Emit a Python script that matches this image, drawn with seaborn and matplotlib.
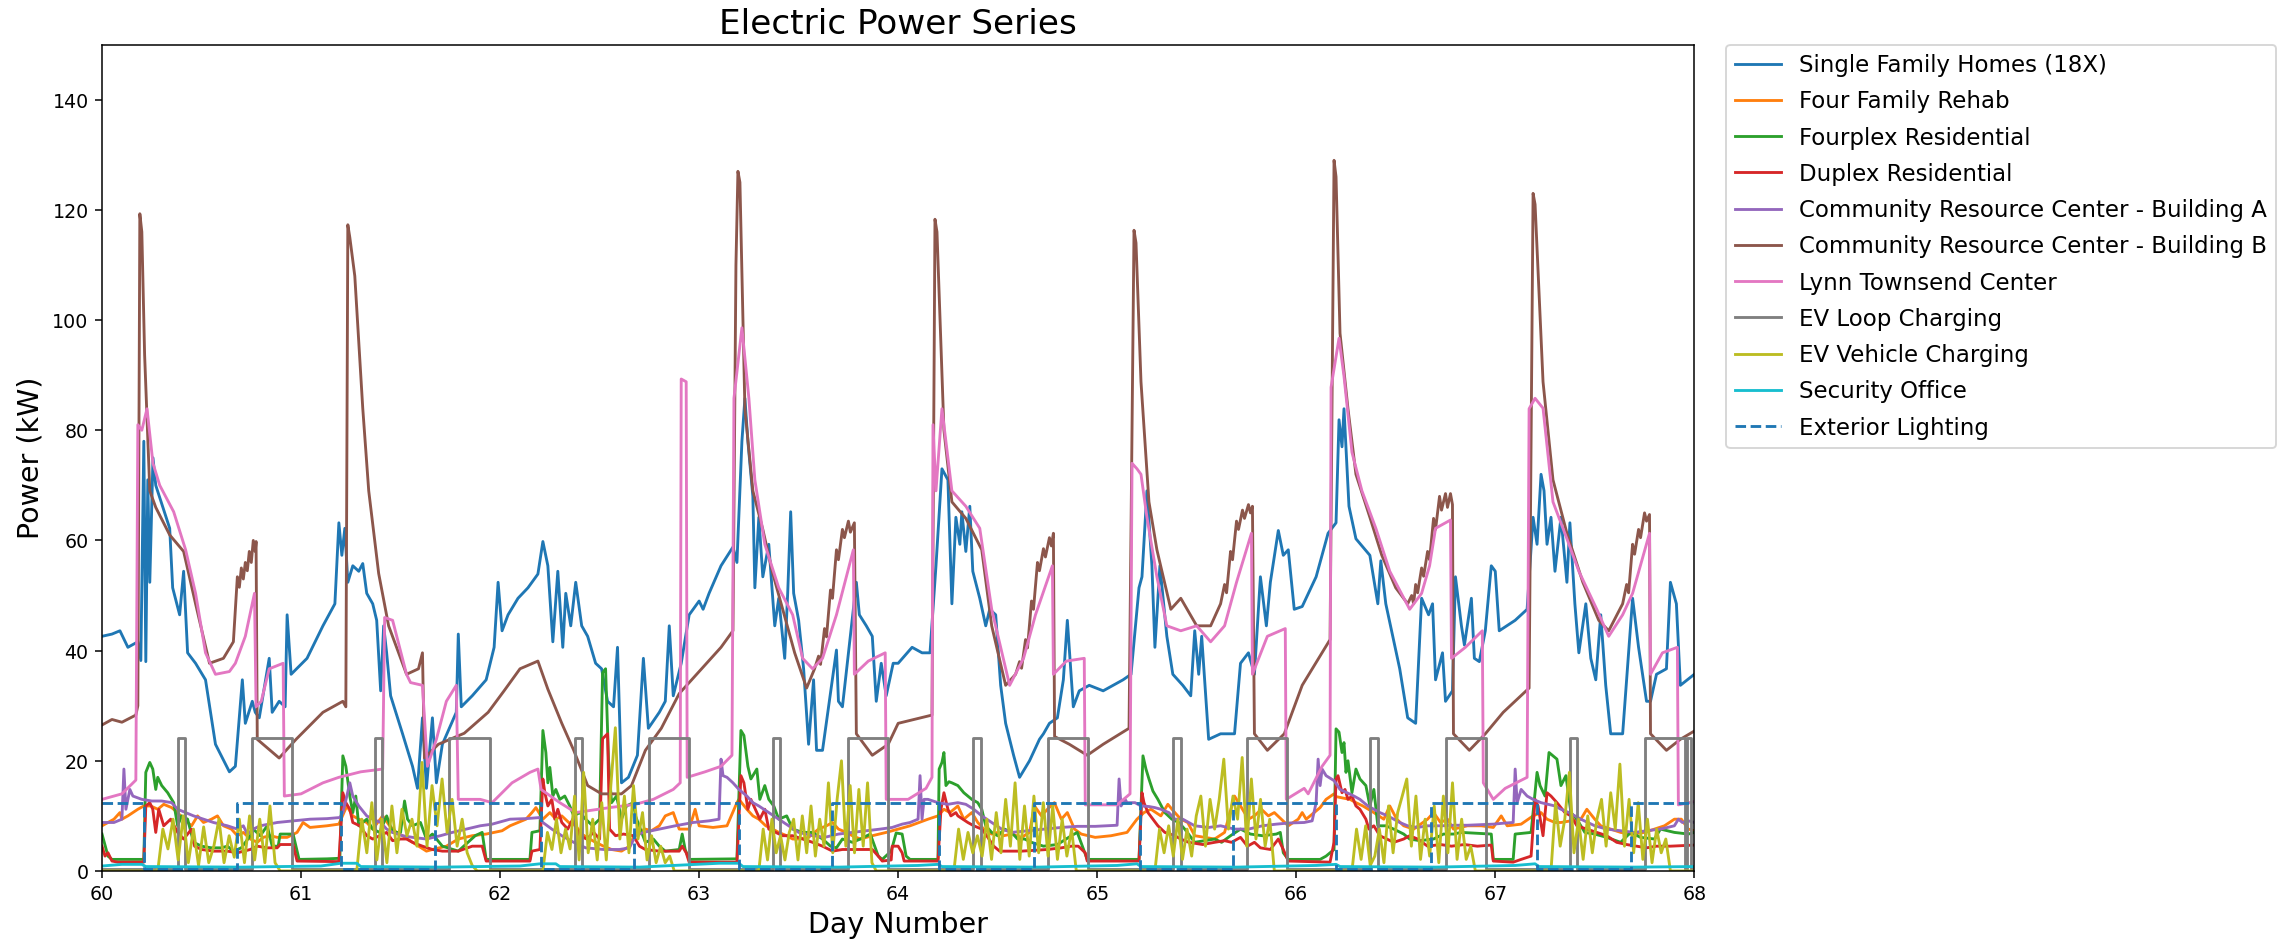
import numpy as np
import pandas as pd
import matplotlib
matplotlib.use("Agg")
import matplotlib.pyplot as plt
import seaborn as sns

# ---------------- data ----------------
sfh_t = [60.00,60.05,60.09,60.13,60.18,60.195,60.21,60.22,60.23,60.24,60.256,60.27,60.34,60.355,60.39,60.41,60.43,60.47,60.52,60.57,
         60.64,60.67,60.705,60.72,60.755,60.77,60.79,60.84,60.855,60.89,60.92,60.93,60.95,61.03,61.11,61.17,61.19,61.205,61.22,61.235,
         61.26,61.29,61.31,61.33,61.36,61.38,61.40,61.415,61.43,61.45,61.51,61.56,61.585,61.61,61.63,61.66,61.68,61.71,61.78,61.79,
         61.805,61.86,61.93,61.97,61.99,62.01,62.04,62.09,62.14,62.19,62.215,62.24,62.265,62.29,62.315,62.33,62.355,62.38,62.41,62.44,
         62.48,62.51,62.54,62.57,62.59,62.61,62.645,62.69,62.72,62.745,62.80,62.83,62.85,62.87,62.91,62.95,63.00,63.02,63.05,63.11,
         63.17,63.19,63.215,63.23,63.245,63.27,63.28,63.30,63.32,63.35,63.38,63.40,63.43,63.445,63.46,63.475,63.50,63.525,63.55,63.575,
         63.59,63.62,63.69,63.70,63.72,63.79,63.805,63.84,63.87,63.89,63.915,63.94,63.975,64.00,64.07,64.12,64.16,64.19,64.22,64.25,
         64.27,64.29,64.31,64.32,64.34,64.36,64.375,64.41,64.44,64.46,64.49,64.515,64.54,64.58,64.61,64.66,64.71,64.73,64.76,64.80,
         64.83,64.85,64.88,64.91,64.96,65.03,65.13,65.17,65.21,65.225,65.25,65.275,65.29,65.315,65.35,65.38,65.43,65.47,65.49,65.51,
         65.525,65.56,65.62,65.69,65.72,65.76,65.79,65.82,65.85,65.87,65.91,65.935,65.96,65.99,66.03,66.10,66.16,66.20,66.215,66.23,
         66.24,66.265,66.30,66.37,66.41,66.425,66.45,66.52,66.56,66.60,66.63,66.665,66.685,66.70,66.735,66.75,66.785,66.80,66.83,66.845,
         66.88,66.895,66.92,66.95,66.98,67.00,67.02,67.10,67.16,67.19,67.21,67.23,67.245,67.26,67.28,67.30,67.33,67.36,67.375,67.40,
         67.42,67.455,67.48,67.505,67.53,67.555,67.58,67.64,67.69,67.72,67.76,67.78,67.81,67.86,67.88,67.91,67.93,68.00]
sfh_kw = [42.6,43.0,43.6,40.6,41.6,38.2,78,38,71,52.4,75,70,62.2,51.4,46.5,54.4,39.6,37.7,34.7,23,
          18,19,34.7,26.8,30.8,28.8,27.8,38.6,28.8,30.8,29.8,46.5,35.7,38.6,44.5,48.5,63.2,57.3,62.2,52.4,
          55.4,54.4,55.8,50.4,48.5,45.5,32.7,44.5,39.6,31.8,24.9,19,15,27.8,15,27.8,16,23,28.8,43,
          29.8,31.8,34.7,40.6,52.4,43.6,46.5,49.5,51.4,53.9,59.8,55.4,41.6,54.4,40.6,50.4,44.5,52.4,44.5,42.6,
          37.7,36.7,30.8,29.8,40.6,16,17,21,38.6,25.9,28.8,30.8,44.5,31.8,37.7,46.5,49,47.5,50.4,55.4,
          58.8,56,78,85.8,78,68,51.4,64.2,53.4,59.3,44.5,49.5,38.6,50.4,65.2,50.4,45.5,36.7,23,34.7,
          21.9,21.9,40.1,30.8,29.8,52.4,46.5,44.5,42.6,30.8,37.7,31.8,37.7,37.7,40.6,39.6,39.6,55.4,73,71,
          48.5,64.2,59.3,65.2,58,66.2,54.4,49.5,44.5,47.5,46.5,33.7,26.8,21,17,20,23.9,24.9,26.8,27.8,
          34.7,45.5,29.8,32.7,33.7,32.7,34.7,35.7,51.4,53.4,69,55.4,40.6,55.4,42.6,35.7,33.7,31.8,43.6,35.7,
          42.6,23.9,24.9,24.9,37.7,39.6,35.7,53.4,44.5,52.4,61.8,57.3,58.3,47.5,48,53.4,61.3,63.2,81.9,77,
          83.9,66.2,60.3,57.3,48.5,56.3,48.5,36.7,27.8,26.8,49.5,46.5,48.5,34.7,39.6,30.8,32.7,53.4,44.5,41,
          49.5,38.6,38,43.6,55.4,54.4,43.6,45.5,47.5,64.2,59.3,72,69,59.3,64.2,54.4,64.2,52.4,63.2,48.5,
          39.6,48.5,38.6,34.7,46.5,33.7,24.9,24.9,49.5,40.6,30.8,30.8,35.7,36.7,52.4,48.5,33.7,35.7]

rehab_t = [60.00,60.03,60.06,60.09,60.10,60.13,60.18,60.21,60.245,60.28,60.31,60.35,60.38,60.41,60.45,60.48,60.51,60.55,60.58,60.61,
           60.65,60.68,60.71,60.745,60.78,60.81,60.845,60.88,60.93,60.98,61.01,61.045,61.13,61.19,61.23,61.26,61.29,61.33,61.36,61.41,
           61.445,61.48,61.51,61.56,61.63,61.66,61.73,61.79,61.86,61.93,62.01,62.05,62.13,62.16,62.18,62.215,62.25,62.28,62.31,62.345,
           62.38,62.41,62.45,62.48,62.52,62.56,62.61,62.65,62.68,62.73,62.76,62.80,62.83,62.87,62.90,62.95,62.98,63.00,63.07,63.14,
           63.19,63.20,63.24,63.27,63.30,63.335,63.37,63.40,63.44,63.47,63.50,63.55,63.60,63.64,63.67,63.70,63.74,63.77,63.81,63.87,
           63.94,63.97,64.03,64.06,64.15,64.20,64.23,64.26,64.30,64.33,64.37,64.40,64.43,64.47,64.50,64.53,64.57,64.62,64.66,64.685,
           64.72,64.75,64.785,64.82,64.85,64.886,64.92,64.99,65.07,65.15,65.20,65.235,65.27,65.32,65.355,65.39,65.42,65.455,65.49,65.54,
           65.59,65.64,65.69,65.72,65.76,65.79,65.825,65.86,65.89,65.925,65.96,66.01,66.03,66.05,66.09,66.12,66.15,66.19,66.20,66.24,
           66.27,66.30,66.335,66.39,66.44,66.47,66.505,66.54,66.59,66.66,66.69,66.725,66.76,66.79,66.86,66.93,66.99,67.03,67.06,67.13,
           67.19,67.23,67.26,67.30,67.33,67.38,67.43,67.46,67.50,67.53,67.58,67.63,67.68,67.75,67.80,67.85,67.90,67.935,67.97,68.00]
rehab_kw = [8.2,8.8,9.4,10.6,9.4,10,11.2,11.8,11.8,11.2,12.1,11.5,10.6,9.4,8.2,10,8.8,9.4,10,8.2,
            7.6,6.4,7,5.8,5.2,6.1,6.4,6.1,6.1,7,8.8,7.9,8.2,8.5,11.8,10,9.4,8.8,7.6,10,
            8.2,7,6.4,5.2,3.6,3.9,4.5,5.8,6.4,6.7,7.3,8.2,9.4,10.6,11.5,9.4,10.6,9.4,10,8.8,
            8.2,6.7,5.8,5.2,4.5,3.9,3.6,4.5,7,7.6,7.3,8.2,10,10.6,7.6,7.6,11.2,8.2,7.9,8.2,
            12.4,13,11.2,10,9.4,8.2,7.6,7,6.4,5.8,5.8,6.1,7.6,8.2,8.8,7.6,7,6.4,5.8,6.4,
            7,7.3,7.9,8.2,9.4,10,11.2,10.6,11.8,9.4,10.6,8.8,7.6,6.7,7,6.4,6.7,6.1,7,11.8,
            10,11.2,12.4,9.4,10.6,7.6,6.7,6.1,6.4,7,9.4,10.6,11.2,10,12.1,10.6,9.4,8.8,6.4,6.1,
            5.8,7,13.6,11.8,9.4,10,11.2,10,10.6,9.4,8.2,9.4,10.6,9.4,10.6,11.5,13,14,13.5,13.2,
            13,12.4,11.8,10.6,9.4,11.8,9.4,8.2,7.6,9.4,10.6,8.8,9.4,7.6,8.2,8.2,7.9,10,8.2,8.5,
            10,10.6,9.4,8.8,8.8,9.1,9.4,11.2,9.4,8.2,7.6,7,6.7,7,7.6,8.2,9.4,9.4,7.6,7.3]

fourplex_t = [60.00,60.03,60.05,60.21,60.22,60.24,60.255,60.27,60.28,60.30,60.33,60.36,60.38,60.40,60.43,60.46,60.50,60.55,60.60,60.63,
              60.66,60.70,60.745,60.76,60.795,60.83,60.855,60.885,60.895,60.96,60.99,61.13,61.195,61.21,61.225,61.245,61.26,61.275,61.29,61.33,
              61.36,61.395,61.43,61.46,61.50,61.52,61.535,61.56,61.60,61.63,61.66,61.71,61.79,61.875,61.91,61.93,62.15,62.16,62.20,62.215,
              62.23,62.24,62.25,62.265,62.28,62.30,62.325,62.35,62.37,62.40,62.43,62.465,62.50,62.515,62.53,62.545,62.56,62.585,62.61,62.635,
              62.67,62.68,62.73,62.77,62.80,62.83,62.90,62.915,62.93,62.95,63.19,63.21,63.225,63.245,63.26,63.29,63.305,63.33,63.35,63.375,
              63.40,63.44,63.47,63.52,63.57,63.62,63.66,63.69,63.72,63.77,63.81,63.86,63.90,63.92,63.965,63.99,64.02,64.04,64.06,64.20,
              64.206,64.22,64.23,64.24,64.255,64.27,64.30,64.33,64.37,64.40,64.42,64.44,64.47,64.50,64.535,64.57,64.60,64.635,64.67,64.73,
              64.80,64.87,64.90,64.935,64.95,65.21,65.23,65.245,65.26,65.28,65.305,65.34,65.375,65.41,65.44,65.49,65.54,65.59,65.625,65.67,
              65.72,65.77,65.83,65.90,65.92,65.935,65.96,66.12,66.15,66.19,66.20,66.215,66.23,66.24,66.25,66.26,66.28,66.30,66.32,66.35,
              66.37,66.39,66.41,66.45,66.49,66.54,66.57,66.62,66.69,66.74,66.79,66.83,66.98,66.99,67.09,67.10,67.18,67.21,67.225,67.25,
              67.27,67.31,67.33,67.355,67.38,67.41,67.45,67.50,67.56,67.63,67.68,67.73,67.80,67.83,67.865,67.90,67.97,68.00]
fourplex_kw = [6.7,2.7,2.1,2.1,17.9,19.7,18.5,14.8,17,15.5,14.2,12.4,8.2,10,9.4,5.2,4.5,4.2,4.2,4.5,
               3.6,4.2,6.4,7.6,6.4,8.2,4.5,4.5,6.7,6.7,2.1,2.2,2.3,20.9,19,13.6,10.6,13.6,8.2,9.4,
               7.6,7,10,7,7,12.7,9.4,8.2,8.8,5.8,6.7,4.5,3.6,6.4,7,2.1,2.1,7,7.3,25.5,
               21.5,16,18.8,13.6,14.8,13,13.6,11.8,10,10.6,9.4,8.2,9.4,36,36.7,20,12.4,13.6,9.4,11.8,
               12.4,10,5.2,5.8,4.5,3.6,3.9,6.7,3.9,2.1,2.2,25.5,24.6,19,16.7,18.5,13,15.5,13,11.8,
               9.4,10,7.6,7,7,5.8,4.5,4.2,5.8,5.2,5.8,6.7,2.7,2.1,3.6,6.9,6.7,2.7,2.1,2.1,
               18.5,19.7,21.5,15.5,16.2,16,15.5,14.2,13,12.4,11.2,8.2,7,6.4,7.6,7,5.8,5.8,5.2,4.5,
               4.8,6.4,7,3.6,2.1,2.1,20.9,18.5,16.7,14.5,13,10.6,9.4,8.8,7.6,5.2,5.5,5.8,5.2,6.4,
               7.6,6.7,6.4,6.7,7,3.3,2.1,2.1,2.7,3.9,25.8,25.2,21.5,23.3,17.9,20,14.2,18.5,16.7,15.5,
               11.8,14.8,8.2,8.2,7.6,6.7,5.8,5.5,5.8,6.7,6.7,7,6.7,2.1,2.1,6.7,7,17.9,15.5,13.6,
               21.5,20.3,15.5,17.3,10.6,9.4,7,6.7,6.1,5.2,7,6.1,5.8,7.6,7.3,7,6.7,7]

duplex_t = [60.00,60.015,60.03,60.05,60.08,60.21,60.22,60.24,60.255,60.27,60.285,60.31,60.345,60.38,60.41,60.45,60.465,60.50,60.56,60.63,
            60.68,60.745,60.78,60.83,60.88,60.895,60.96,60.98,61.19,61.21,61.225,61.245,61.26,61.295,61.33,61.36,61.395,61.43,61.46,61.50,
            61.53,61.56,61.61,61.66,61.71,61.79,61.86,61.91,61.93,62.15,62.16,62.20,62.215,62.225,62.24,62.26,62.275,62.29,62.31,62.34,
            62.365,62.40,62.435,62.47,62.50,62.515,62.54,62.55,62.58,62.62,62.67,62.70,62.73,62.80,62.90,62.915,62.935,62.95,63.19,63.21,
            63.225,63.245,63.26,63.29,63.305,63.33,63.35,63.385,63.42,63.47,63.52,63.57,63.62,63.67,63.72,63.80,63.87,63.90,63.92,63.965,
            63.97,64.00,64.02,64.03,64.20,64.215,64.23,64.25,64.265,64.29,64.30,64.35,64.38,64.42,64.445,64.48,64.51,64.62,64.75,64.82,
            64.87,64.905,64.94,64.95,65.21,65.225,65.235,65.255,65.28,65.305,65.34,65.39,65.42,65.46,65.53,65.59,65.64,65.675,65.72,65.755,
            65.79,65.82,65.87,65.91,65.935,65.96,66.17,66.19,66.20,66.21,66.23,66.245,66.26,66.28,66.30,66.32,66.35,66.365,66.39,66.42,
            66.455,66.49,66.54,66.57,66.61,66.66,66.725,66.78,66.845,66.91,66.98,66.99,67.09,67.13,67.18,67.20,67.215,67.24,67.26,67.28,
            67.31,67.35,67.38,67.41,67.46,67.51,67.56,67.61,67.66,67.71,67.76,67.81,67.88,68.00]
duplex_kw = [4.5,2.7,3.3,1.8,1.6,1.6,11.8,12.4,11.2,7,11.2,8.2,9.4,7,5.8,7.6,4.5,3.9,3.6,3.6,
             3.3,3.9,4.5,4.2,4.2,4.8,4.8,1.8,1.7,14.2,12.4,11.2,8.8,8.2,6.4,5.8,6.4,7,5.5,5.8,
             5.8,5.2,4.5,3.9,3.6,3.6,4.5,4.5,1.8,1.8,3.6,3.9,16.7,14.2,11.8,13,9.4,11.2,8.8,7.6,
             9.4,6.4,5.8,7,5.8,24,24.9,7.6,6.4,6.7,6.4,4.5,3.9,3.6,3.6,4.5,3.3,1.6,1.6,17.3,
             16,11.2,13,10.6,9.4,11.2,7.6,7,6.4,6.4,5.8,5.2,4.5,3.6,3.9,3.9,3.9,2.7,1.8,2,
             4.5,4.5,3.3,1.8,1.8,11.2,14.2,11.2,10,10.6,10,8.8,8.2,7.6,6.4,4.5,3.6,3.6,3.9,4.2,
             4.5,4.5,3.3,1.8,1.8,14.2,12.4,10.6,9.4,8.2,7,6.4,5.8,5.2,4.8,5.2,5.5,5.2,6.1,4.5,
             5.2,4.2,3.9,5.8,3.9,1.8,1.6,5.2,16.7,17.3,14.2,14.8,13,13.6,11.8,11.2,9.4,7.6,8.2,6.4,
             5.8,5.2,5.8,6.4,5.8,4.5,4.8,4.5,4.8,4.5,4.7,1.8,1.6,2.1,2.7,13,11.8,6.4,14.2,13.6,
             12.4,10.6,10,8.2,7.6,7,6.4,5.2,4.8,4.5,4.2,4.5,4.5,4.7]

crc_a_t = [60.00,60.06,60.10,60.11,60.12,60.14,60.155,60.20,60.25,60.30,60.35,60.38,60.42,60.46,60.51,60.56,60.63,60.68,60.71,60.73,
           60.76,60.795,60.88,60.96,61.045,61.13,61.195,61.21,61.23,61.245,61.26,61.29,61.33,61.36,61.40,61.43,61.46,61.51,61.56,61.63,
           61.70,61.76,61.83,61.90,61.96,62.05,62.13,62.20,62.215,62.26,62.31,62.37,62.43,62.52,62.60,62.65,62.68,62.72,62.80,62.88,
           62.97,63.05,63.10,63.11,63.12,63.14,63.17,63.20,63.24,63.27,63.30,63.35,63.40,63.45,63.50,63.57,63.63,63.70,63.77,63.84,
           63.91,63.97,64.02,64.06,64.10,64.11,64.12,64.13,64.15,64.20,64.25,64.30,64.34,64.38,64.42,64.47,64.52,64.57,64.65,64.735,
           64.82,64.90,64.99,65.05,65.10,65.11,65.12,65.14,65.15,65.19,65.22,65.26,65.29,65.32,65.36,65.39,65.43,65.46,65.49,65.56,
           65.62,65.69,65.76,65.83,65.90,65.96,66.04,66.08,66.10,66.11,66.12,66.13,66.15,66.19,66.22,66.255,66.29,66.32,66.36,66.39,
           66.42,66.46,66.49,66.52,66.56,66.61,66.66,66.73,66.79,66.86,66.92,66.99,67.05,67.09,67.10,67.11,67.13,67.16,67.19,67.23,
           67.265,67.30,67.33,67.37,67.40,67.43,67.465,67.50,67.56,67.63,67.70,67.76,67.83,67.90,67.92,67.94,67.97,68.00]
crc_a_kw = [8.8,8.8,9.4,18.5,11.2,14.8,13.6,13,12.7,12.7,12.4,11.2,10.6,10,9.4,8.8,8.2,7.6,8.2,6.7,
            7.6,8.2,8.8,9.1,9.4,9.5,9.7,10.6,13.6,16,13.6,11.8,10,9.4,8.8,7.6,7,6.4,6.1,5.8,
            6.4,7,7.6,8.2,8.5,9.4,9.5,9.7,8.8,7.6,6.4,5.2,4.2,3.9,3.9,4.2,6.4,7,7.6,8.2,
            8.8,9.1,9.4,20.3,17.3,17,16,14.8,13.6,12.4,11.8,10.6,9.4,8.2,7,6.4,6.1,6.7,7,7.3,
            7.6,7.9,8.5,8.8,9.4,17.3,9.4,13,13,12.4,12.1,12.4,12.1,11.2,10,8.8,7.6,7,7.3,7.6,
            7.9,8.1,8.1,8.2,8.3,16.7,11.8,13,12.4,12.4,11.8,11.7,11.5,11.2,10.6,9.4,9.4,8.8,8.2,7.9,
            8.2,7.6,7.6,8.2,8.5,8.7,8.8,9.1,12.4,20.3,15.5,18.5,17.3,16.4,14.8,14.2,13.6,13,11.8,11.2,
            10.6,10,9.4,8.8,8.2,7.9,8.2,8.2,8.3,8.3,8.4,8.5,8.7,8.8,18.5,12.4,14.8,13.6,13,12.4,
            12.1,11.8,11.2,10.6,10,9.4,8.8,8.2,7.6,7.3,7,7.3,7.6,8.2,9.4,8.8,9.1,8.8]

crc_b_points = [
    (60.00,26.5),(60.05,27.5),(60.10,27.0),(60.17,28.3),(60.18,30),(60.19,119.3),(60.20,116),(60.214,93.7),(60.24,69),
    (60.27,66),(60.34,61),(60.41,58),(60.47,48.5),(60.54,37.7),(60.61,38.6),(60.66,41.6),(60.68,53.4),(60.69,51.5),
    (60.70,55),(60.71,53),(60.72,56),(60.73,54.5),(60.74,58),(60.75,56),(60.76,60),(60.77,58),(60.774,59.8),(60.78,23.9),
    (60.89,20.5),(60.975,23.9),(61.11,28.8),(61.21,30.8),(61.225,29.8),(61.235,117.3),(61.245,115),(61.27,108),(61.31,84),
    (61.34,69),(61.39,54),(61.44,44.5),(61.53,35.7),(61.59,36.7),(61.61,39.6),(61.62,20.5),(61.69,23),(61.82,25),
    (61.94,28.8),(62.02,32.7),(62.10,36.7),(62.19,38.1),(62.24,33),(62.31,26.8),(62.37,21.9),(62.44,15.5),(62.51,14),
    (62.61,14),(62.66,15.5),(62.73,21.9),(62.81,25.9),(62.90,32.2),(63.00,36.2),(63.11,40.6),(63.17,43.6),(63.185,110),
    (63.195,127),(63.205,125),(63.23,83.9),(63.27,69),(63.32,62),(63.37,54),(63.42,47.5),(63.48,39.6),(63.54,33.2),
    (63.58,36.7),(63.60,39),(63.61,37.5),(63.63,44),(63.64,42.5),(63.66,51),(63.67,49.5),(63.69,58.3),(63.70,56.5),
    (63.72,62),(63.73,60.5),(63.75,63.5),(63.76,61.5),(63.78,63.2),(63.79,24.9),(63.87,21),(63.95,23),(64.00,26.8),
    (64.17,28.3),(64.185,118.3),(64.195,116),(64.23,80),(64.27,67),(64.34,64),(64.42,58.3),(64.47,44.5),(64.54,33.7),
    (64.59,35.7),(64.61,38),(64.62,36.8),(64.64,42),(64.65,40.5),(64.67,49),(64.68,47.5),(64.70,56),(64.71,54.5),
    (64.73,58.5),(64.74,57),(64.76,60.5),(64.77,59),(64.78,61.3),(64.786,24.4),(64.86,23),(64.95,21),(65.03,23),
    (65.16,25.9),(65.185,116.3),(65.195,114),(65.22,88.8),(65.26,67),(65.30,58.3),(65.37,47.5),(65.42,49.5),(65.50,44.5),
    (65.57,44.5),(65.62,48.5),(65.64,52),(65.65,50.5),(65.67,58),(65.68,56.5),(65.70,63.5),(65.71,62),(65.73,65.5),
    (65.74,64),(65.76,66.5),(65.77,65),(65.78,66.2),(65.79,24.9),(65.855,21.9),(65.94,24.9),(66.03,33.7),(66.17,42),
    (66.19,129),(66.20,126),(66.22,97.6),(66.26,83.9),(66.30,72),(66.37,64.2),(66.43,57.3),(66.50,51.4),(66.56,48.5),
    (66.58,50),(66.59,48.5),(66.60,52),(66.61,50.5),(66.63,55),(66.64,53.5),(66.66,58),(66.67,56.5),(66.69,64),
    (66.70,62),(66.72,68),(66.73,65.5),(66.75,68.5),(66.76,66),(66.775,68.5),(66.785,66.5),(66.79,24.9),(66.87,21.9),
    (66.95,24.9),(67.04,28.8),(67.17,33.2),(67.19,123),(67.20,121),(67.24,88.8),(67.29,71),(67.36,61.3),(67.44,52.4),
    (67.52,45.5),(67.57,43.6),(67.64,48.5),(67.66,52),(67.67,50.5),(67.69,59.3),(67.70,57.5),(67.72,62),(67.73,60.5),
    (67.75,65),(67.76,63.5),(67.775,64.7),(67.78,24.9),(67.86,21.9),(67.93,23.9),(68.00,25.4)]
crc_b_t = [p[0] for p in crc_b_points]
crc_b_kw = [p[1] for p in crc_b_points]

lynn_t = [60.00,60.10,60.17,60.18,60.20,60.226,60.256,60.29,60.36,60.42,60.47,60.52,60.57,60.64,60.67,60.72,60.766,60.774,60.80,60.84,
          60.91,60.916,61.00,61.11,61.19,61.30,61.41,61.42,61.46,61.53,61.55,61.61,61.635,61.68,61.73,61.78,61.79,61.90,61.96,62.06,
          62.15,62.19,62.206,62.30,62.38,62.55,62.68,62.77,62.87,62.905,62.91,62.935,62.94,63.03,63.11,63.165,63.175,63.215,63.25,63.28,
          63.33,63.40,63.47,63.52,63.57,63.62,63.69,63.775,63.78,63.85,63.935,63.94,64.05,64.14,64.17,64.175,64.19,64.22,64.27,64.34,
          64.41,64.47,64.56,64.63,64.69,64.775,64.78,64.845,64.935,64.94,65.10,65.165,65.175,65.20,65.22,65.25,65.30,65.35,65.42,65.50,
          65.57,65.64,65.70,65.775,65.78,65.855,65.945,65.95,66.04,66.06,66.13,66.17,66.175,66.215,66.24,66.28,66.33,66.40,66.47,66.57,
          66.63,66.67,66.70,66.775,66.78,66.85,66.935,66.94,66.99,67.05,67.16,67.17,67.20,67.24,67.29,67.36,67.42,67.51,67.57,67.64,
          67.69,67.775,67.78,67.84,67.915,67.92,68.00]
lynn_kw = [13,14,16.5,81,80,83.9,74,70,65.2,58.3,50.4,39.6,35.7,36.2,37.7,42.6,50.4,29.8,30.8,36.7,
           37.7,13.6,14,16,17,18,18.5,46,45.5,35.7,34.2,33.7,19,23.9,30.8,33.7,13,13,12.4,16,
           17.9,18.5,14.8,12.4,10.6,11.5,12.1,13,14.8,16,89.3,88.8,17,18,19,21,85.8,98.6,85.8,71,
           59.3,51.4,46.5,38.6,36.7,38.6,46.5,58.3,35.7,38.1,39.6,13,13,15,17,81,69,83.9,69,66.2,
           62.2,47.5,33.7,38.6,46.5,55.4,35.7,38.1,38.6,12,12,14,74,73,72,64.2,53.4,44.5,43.6,44.5,
           41.6,44.5,52.4,61.3,35.7,42.6,44,13,15,14,19,21,87.8,96.7,89.8,76,69,62.2,54.4,47.5,
           50.4,55.4,62.2,63.7,38.6,40.6,43.6,16,13,15,17,83.9,85.8,84,67,60.3,54.4,47.5,42.6,46.5,
           50.4,61.3,35.7,39.6,40.6,12,12.6]

ev_loop_t = [60.0,60.38,60.416,60.754,60.953,61.374,61.408,61.744,61.948,62.374,62.41,62.747,62.95,63.37,63.407,63.747,63.948,
             64.377,64.416,64.755,64.956,65.38,65.42,65.755,65.956,66.372,66.409,66.75,66.951,67.376,67.413,67.752,67.953,
             67.965,67.985,68.0]
ev_loop_kw = [0.3,24.2,0.3,24.2,0.3,24.2,0.3,24.2,0.3,24.2,0.3,24.2,0.3,24.2,0.3,24.2,0.3,
              24.2,0.3,24.2,0.3,24.2,0.3,24.2,0.3,24.2,0.3,24.2,0.3,24.2,0.3,24.2,0.3,
              24.2,0.3,0.3]

ev_vehicle_windows = [(60.28, 60.895), (61.28, 61.885), (62.215, 62.875), (63.30, 63.89),
                      (64.28, 64.895), (65.29, 65.89), (66.28, 66.90), (67.28, 67.88)]
ev_vehicle_kw = [
    [0,7.6,4,9.4,2,10,1.5,7.6,1,8,1.5,4.5,9.4,1.5,6.4,2.5,9.4,1.5,10,2,9.4,1.5,11.8,1.5,0],
    [0,9.4,3.3,12.4,2,9.4,1.5,11.8,3.3,11.2,6.4,9.4,4.5,19.7,4.5,15.5,8.2,16.7,7,13,4.5,9.4,3.3,1,0],
    [0,7,3.9,9.4,3.3,7.6,4,13.6,2,17.9,3.3,9.4,2,12.4,2,15.5,26,5.8,13.6,3.3,15.5,5.8,10.6,2,6.4,1.5,4.5,1.5,2.7,0],
    [0,7.6,2,9.4,3.3,6.4,2,7,9.4,2,10,3.3,11.8,2.7,9.4,4.5,16,3.3,13,20,4.5,15.5,3.3,14.8,4.5,16,1.5,0],
    [0,7.6,2.1,7,3.3,6.4,2.7,9.4,2.1,10.6,3.3,13,4.5,16,2.1,11.8,2.7,13.6,3.3,12.4,2.7,11.8,2.1,9.4,2.7,7.6,0],
    [0,7.6,3.3,8.2,2.7,9.4,2.1,7.6,2.7,10,13.6,4.5,13,7.6,13,20.3,7.6,13.6,9.4,20.6,4.5,16.7,5.8,13,4.5,9.4,0],
    [0,7.6,2.1,8.2,1,2.7,7.6,1.5,11.8,3.3,10.6,13.6,16.7,4.5,13.6,2.1,9.4,2.7,11.8,1.5,13.6,3.3,16,2.1,9.4,2.1,4.5,0],
    [0,12.4,4.5,9.4,17.9,3.3,9.4,2.1,10,3.3,9.4,13,4.5,14.2,7.6,19.4,4.5,13,3.3,12.4,2.1,9.4,1.5,7.6,3.3,5.8,0],
]

security_t = [60.00,60.10,60.20,60.22,60.70,61.10,61.20,61.28,61.30,61.70,62.10,62.20,62.28,62.30,62.70,63.10,63.20,63.22,63.70,
              64.10,64.20,64.22,64.70,65.10,65.20,65.22,65.70,66.10,66.20,66.22,66.70,67.10,67.20,67.22,67.70,68.00]
security_kw = [0.9,1.2,1.2,0.8,0.7,0.9,1.4,1.4,0.8,0.7,0.9,1.3,1.3,0.8,0.7,1.4,1.4,0.8,0.7,
               1.0,1.2,0.8,0.7,1.0,1.3,0.8,0.7,1.0,1.2,0.8,0.7,1.0,1.3,0.8,0.7,0.8]

lighting_t = [60.0,60.213,60.68,61.2,61.674,62.206,62.675,63.2,63.67,64.206,64.68,65.213,65.683,66.2,66.675,67.208,67.68,68.0]
lighting_kw = [12.3,0.3,12.3,0.3,12.3,0.3,12.3,0.3,12.3,0.3,12.3,0.3,12.3,0.3,12.3,0.3,12.3,12.3]

labels = ["Single Family Homes (18X)", "Four Family Rehab", "Fourplex Residential", "Duplex Residential",
          "Community Resource Center - Building A", "Community Resource Center - Building B",
          "Lynn Townsend Center", "EV Loop Charging", "EV Vehicle Charging", "Security Office",
          "Exterior Lighting"]
colors = ["#1f77b4", "#ff7f0e", "#2ca02c", "#d62728", "#9467bd", "#8c564b",
          "#e377c2", "#7f7f7f", "#bcbd22", "#17becf", "#1f77b4"]

# EV vehicle series assembled from its charging windows
ev_t, ev_v = [60.0], [0.0]
for (a, b), vals in zip(ev_vehicle_windows, ev_vehicle_kw):
    ev_t += list(np.linspace(a, b, len(vals)))
    ev_v += vals
ev_t.append(68.0); ev_v.append(0.0)

series = [(sfh_t, sfh_kw, {}), (rehab_t, rehab_kw, {}), (fourplex_t, fourplex_kw, {}),
          (duplex_t, duplex_kw, {}), (crc_a_t, crc_a_kw, {}), (crc_b_t, crc_b_kw, {}),
          (lynn_t, lynn_kw, {}), (ev_loop_t, ev_loop_kw, {"drawstyle": "steps-post"}),
          (ev_t, ev_v, {}), (security_t, security_kw, {}),
          (lighting_t, lighting_kw, {"drawstyle": "steps-post", "linestyle": "--"})]

# ---------------- plot ----------------
DPI = 137
fig = plt.figure(figsize=(2279.4 / DPI, 940.4 / DPI), dpi=DPI)
ax = fig.add_axes([102 / 2279, 69 / 940, 1592 / 2279, 826 / 940])

for (t, v, kw), lab, col in zip(series, labels, colors):
    sns.lineplot(x=np.asarray(t, float), y=np.asarray(v, float), ax=ax, color=col, label=lab,
                 linewidth=1.5, estimator=None, sort=False, **kw)

ax.set_xlim(60, 68)
ax.set_ylim(0, 150)
ax.set_xticks(range(60, 69))
ax.set_yticks(range(0, 141, 20))
ax.tick_params(labelsize=10)
ax.set_xlabel("Day Number", fontsize=15)
ax.set_ylabel("Power (kW)", fontsize=15)
ax.set_title("Electric Power Series", fontsize=18)
ax.legend(bbox_to_anchor=(1.02, 1), loc="upper left", borderaxespad=0, fontsize=12,
          labelspacing=0.58)

fig.savefig("out.png", dpi=DPI)
